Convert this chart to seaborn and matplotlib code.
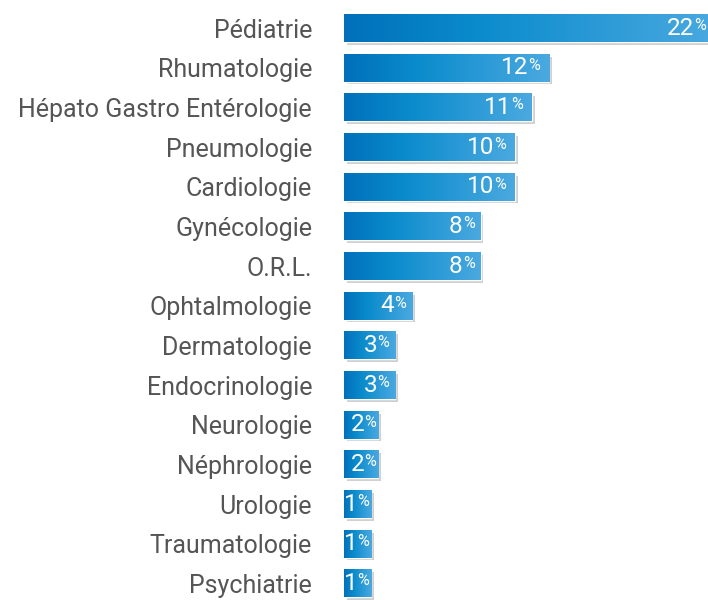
import numpy as np
import pandas as pd
import matplotlib
matplotlib.use("Agg")
import matplotlib.pyplot as plt
import matplotlib.patheffects as pe
from matplotlib.colors import LinearSegmentedColormap
import seaborn as sns

# Data
specialites = ["Pédiatrie", "Rhumatologie", "Hépato Gastro Entérologie", "Pneumologie",
               "Cardiologie", "Gynécologie", "O.R.L.", "Ophtalmologie", "Dermatologie",
               "Endocrinologie", "Neurologie", "Néphrologie", "Urologie", "Traumatologie",
               "Psychiatrie"]
pct_labels = [22, 12, 11, 10, 10, 8, 8, 4, 3, 3, 2, 2, 1, 1, 1]
# bar lengths as drawn (the 1% bars are drawn a bit longer than 1)
bar_values = [22, 12, 11, 10, 10, 8, 8, 4, 3, 3, 2, 2, 1.6, 1.6, 1.6]

df = pd.DataFrame({"specialite": specialites, "valeur": bar_values})

sns.set_theme(style="white")
plt.rcParams["font.family"] = ["Roboto", "DejaVu Sans"]

fig = plt.figure(figsize=(7.08, 6.0), dpi=100)
ax = fig.add_axes([344 / 708, 0, 364 / 708, 1])

sns.barplot(data=df, x="valeur", y="specialite", orient="h", color="#0072bc",
            width=0.70, ax=ax)

grad_cmap = LinearSegmentedColormap.from_list(
    "bleu", [(0, "#0070ba"), (0.35, "#0a8bcc"), (1, "#4ba9e0")])
grad = np.linspace(0, 1, 256).reshape(1, -1)

for p in ax.patches:
    p.set_path_effects([pe.SimplePatchShadow(offset=(2, -2), shadow_rgbFace="#8a8a8a", alpha=0.4),
                        pe.Normal()])
    x0, y0 = p.get_x(), p.get_y()
    w, h = p.get_width(), p.get_height()
    im = ax.imshow(grad, extent=[x0, x0 + w, y0 + h, y0], aspect="auto",
                   cmap=grad_cmap, zorder=3, interpolation="bicubic")
    im.set_clip_path(p)

xmax = 21.3
ax.set_xlim(0, xmax)
ax.set_ylim(14.42, -0.706)

# value labels: big number + small percent sign
for i, (v, lab) in enumerate(zip(bar_values, pct_labels)):
    if lab <= 2:
        pad = 2
    elif lab < 9:
        pad = 6
    else:
        pad = 9
    x_anchor = v
    if v > xmax:  # bar runs off the right edge
        x_anchor, pad = xmax, 2
    ax.annotate("%", xy=(x_anchor, i), xytext=(-pad, 2.5), textcoords="offset pixels",
                ha="right", va="center", color="white", fontsize=11.5, zorder=5,
                annotation_clip=False)
    ax.annotate(str(lab), xy=(x_anchor, i), xytext=(-pad - 12, 0), textcoords="offset pixels",
                ha="right", va="center", color="white", fontsize=17.5,
                fontweight="normal", zorder=5, annotation_clip=False)

ax.set_xlabel("")
ax.set_ylabel("")
ax.set_xticks([])
ax.tick_params(axis="y", length=0, pad=23, labelsize=18, labelcolor="#555555")
sns.despine(ax=ax, left=True, bottom=True, top=True, right=True)

fig.savefig("out.png", dpi=100)
